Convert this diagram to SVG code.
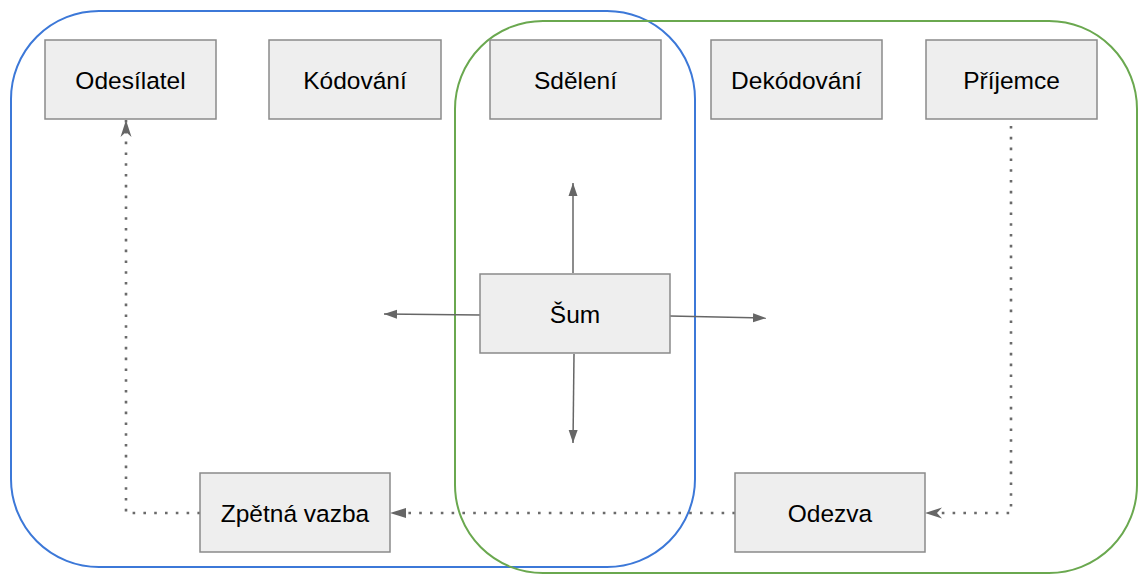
<svg xmlns="http://www.w3.org/2000/svg" width="1139" height="575" viewBox="0 0 1139 575">
  <style>
    .frame { fill: none; stroke-width: 2; }
    .node rect { fill: #eeeeee; stroke: #8a8a8a; stroke-width: 1.5; }
    .node text { font-family: "Liberation Sans", Arial, sans-serif; font-size: 24.5px; fill: #000000; text-anchor: middle; }
    .solid { fill: none; stroke: #666666; stroke-width: 1.5; marker-end: url(#tri); }
    .dotted { fill: none; stroke: #6a6a6a; stroke-width: 2.6; stroke-dasharray: 2.6 8.2; }
  </style>
  <defs>
    <marker id="tri" markerUnits="userSpaceOnUse" markerWidth="13" markerHeight="10" refX="13" refY="5" orient="auto">
      <path d="M0,0.5 L13,5 L0,9.5 z" fill="#666666"/>
    </marker>
    <marker id="triBig" markerUnits="userSpaceOnUse" markerWidth="17" markerHeight="11" refX="16" refY="5.5" orient="auto">
      <path d="M0,0.5 L16,5.5 L0,10.5 z" fill="#666666"/>
    </marker>
    <marker id="stealth" markerUnits="userSpaceOnUse" markerWidth="18" markerHeight="12" refX="17" refY="6" orient="auto">
      <path d="M0,0.5 L17,6 L0,11.5 L5,6 z" fill="#666666"/>
    </marker>
  </defs>

  <!-- overlapping group frames -->
  <g id="frames">
    <rect class="frame" x="11" y="11" width="684" height="556" rx="88" ry="88" stroke="#3c78d8"/>
    <rect class="frame" x="455" y="21" width="682" height="552" rx="88" ry="88" stroke="#6aa84f"/>
  </g>

  <!-- connectors -->
  <g id="connectors">
    <path class="solid" d="M573,273 L573,183"/>
    <path class="solid" d="M574,354 L573,443"/>
    <path class="solid" d="M480,315 L384,314"/>
    <path class="solid" d="M670,316 L766,318"/>
    <path class="dotted" d="M1011,126 L1011,513 L925,513" marker-end="url(#stealth)"/>
    <path class="dotted" d="M735,513 L390,513" marker-end="url(#triBig)"/>
    <path class="dotted" d="M200,513 L126,513 L126,120" marker-end="url(#stealth)"/>
  </g>

  <!-- nodes -->
  <g id="odesilatel" class="node">
    <rect x="45" y="40" width="171" height="79"/>
    <text x="130.5" y="89">Odesílatel</text>
  </g>
  <g id="kodovani" class="node">
    <rect x="269" y="40" width="172" height="79"/>
    <text x="355" y="89">Kódování</text>
  </g>
  <g id="sdeleni" class="node">
    <rect x="490" y="40" width="171" height="79"/>
    <text x="575.5" y="89">Sdělení</text>
  </g>
  <g id="dekodovani" class="node">
    <rect x="711" y="40" width="171" height="79"/>
    <text x="796.5" y="89">Dekódování</text>
  </g>
  <g id="prijemce" class="node">
    <rect x="926" y="40" width="171" height="79"/>
    <text x="1011.5" y="89">Příjemce</text>
  </g>
  <g id="sum" class="node">
    <rect x="480" y="274" width="190" height="79"/>
    <text x="575" y="323">Šum</text>
  </g>
  <g id="zpetna-vazba" class="node">
    <rect x="200" y="473" width="190" height="79"/>
    <text x="295" y="522">Zpětná vazba</text>
  </g>
  <g id="odezva" class="node">
    <rect x="735" y="473" width="190" height="79"/>
    <text x="830" y="522">Odezva</text>
  </g>
</svg>
